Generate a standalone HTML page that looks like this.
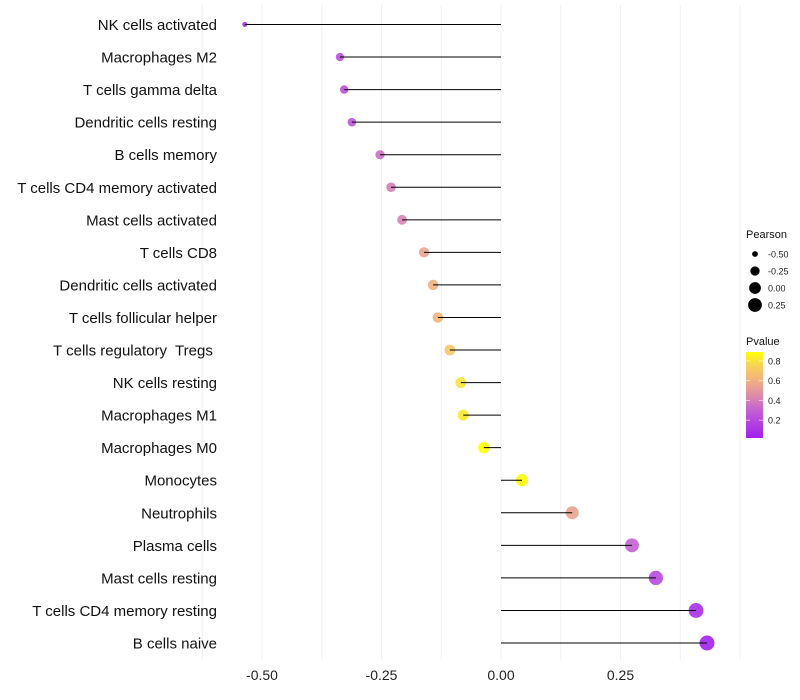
<!DOCTYPE html>
<html><head><meta charset="utf-8"><style>
body{margin:0;background:#fff;font-family:"Liberation Sans",sans-serif}
text{white-space:pre}
</style></head><body>
<svg id="c" width="800" height="700" style="display:block"></svg>
<script>
const categories=["NK cells activated","Macrophages M2","T cells gamma delta","Dendritic cells resting","B cells memory","T cells CD4 memory activated","Mast cells activated","T cells CD8","Dendritic cells activated","T cells follicular helper","T cells regulatory  Tregs ","NK cells resting","Macrophages M1","Macrophages M0","Monocytes","Neutrophils","Plasma cells","Mast cells resting","T cells CD4 memory resting","B cells naive"];
const pearson=[-0.536,-0.337,-0.328,-0.312,-0.253,-0.230,-0.207,-0.161,-0.142,-0.132,-0.107,-0.084,-0.079,-0.036,0.044,0.149,0.274,0.324,0.408,0.431];
const pvalue=[0.05,0.22,0.22,0.25,0.35,0.4,0.42,0.55,0.6,0.62,0.7,0.8,0.82,0.89,0.88,0.55,0.3,0.2,0.08,0.03];
const xTicks=[-0.5,-0.25,0,0.25];
const xTickLabels=["-0.50","-0.25","0.00","0.25"];
const sizeLegend=[-0.5,-0.25,0,0.25];
const sizeLegendLabels=["-0.50","-0.25","0.00","0.25"];
const colorLegend=[0.2,0.4,0.6,0.8];
const NS="http://www.w3.org/2000/svg";
const svg=document.getElementById('c');
function mk(t,a,p){const e=document.createElementNS(NS,t);for(const k in a)e.setAttribute(k,a[k]);(p||svg).appendChild(e);return e;}
const x=v=>501+v*478;
const y=i=>24.5+i*(643-24.5)/19;
const r=v=>Math.sqrt(Math.max(1,30+47.7*v))+0.4;
const stops=[[0.02,[160,32,240]],[0.3,[196,96,210]],[0.45,[220,140,170]],[0.6,[240,176,128]],[0.75,[248,210,90]],[0.89,[255,255,0]]];
function col(p){for(let i=1;i<stops.length;i++){if(p<=stops[i][0]){const a=stops[i-1],b=stops[i];const t=Math.max(0,(p-a[0])/(b[0]-a[0]));return 'rgb('+a[1].map((c,j)=>Math.round(c+(b[1][j]-c)*t)).join(',')+')';}}return 'rgb(255,255,0)';}
const grid=mk('g',{});
for(let k=-0.625;k<=0.5;k+=0.125){const l=mk('line',{x1:x(k),x2:x(k),y1:5,y2:660,stroke:'#f0f0f0','stroke-width':1},grid);}
xTicks.forEach((v,i)=>{const t=mk('text',{x:x(v),y:680,'font-size':14,fill:'#222','text-anchor':'middle'});t.textContent=xTickLabels[i];});
categories.forEach((c,i)=>{
const t=mk('text',{x:217,y:y(i)+5.5,'font-size':15,fill:'#111','text-anchor':'end'});t.textContent=c;
const p=mk('circle',{cx:x(pearson[i]),cy:y(i),r:r(pearson[i]),fill:col(pvalue[i]),'fill-opacity':0.9});
const s=mk('line',{x1:x(0),x2:x(pearson[i]),y1:y(i),y2:y(i),stroke:'#000','stroke-width':1});
});
const lg=mk('g',{});
let t=mk('text',{x:746,y:238,'font-size':11,fill:'#111'},lg);t.textContent='Pearson';
sizeLegend.forEach((v,i)=>{const cy=254+i*17;const c=mk('circle',{cx:755,cy:cy,r:r(v),fill:'#000'},lg);
const tt=mk('text',{x:768,y:cy+3.5,'font-size':9,fill:'#222'},lg);tt.textContent=sizeLegendLabels[i];});
t=mk('text',{x:746,y:345,'font-size':11,fill:'#111'},lg);t.textContent='Pvalue';
const defs=mk('defs',{});const gr=mk('linearGradient',{id:'g',x1:0,y1:1,x2:0,y2:0},defs);
stops.forEach(s=>{mk('stop',{offset:(s[0]-0.02)/0.87,'stop-color':'rgb('+s[1].join(',')+')'},gr);});
const bar=mk('rect',{x:746,y:352,width:17,height:86,fill:'url(#g)'},lg);
const cy=v=>438-(v-0.02)/0.87*86;
colorLegend.forEach(v=>{const tt=mk('text',{x:768,y:cy(v)+3.5,'font-size':9,fill:'#222'},lg);tt.textContent=v.toFixed(1);
mk('line',{x1:746,x2:750,y1:cy(v),y2:cy(v),stroke:'#fff','stroke-opacity':0.6},lg);mk('line',{x1:759,x2:763,y1:cy(v),y2:cy(v),stroke:'#fff','stroke-opacity':0.6},lg);});
</script></body></html>
